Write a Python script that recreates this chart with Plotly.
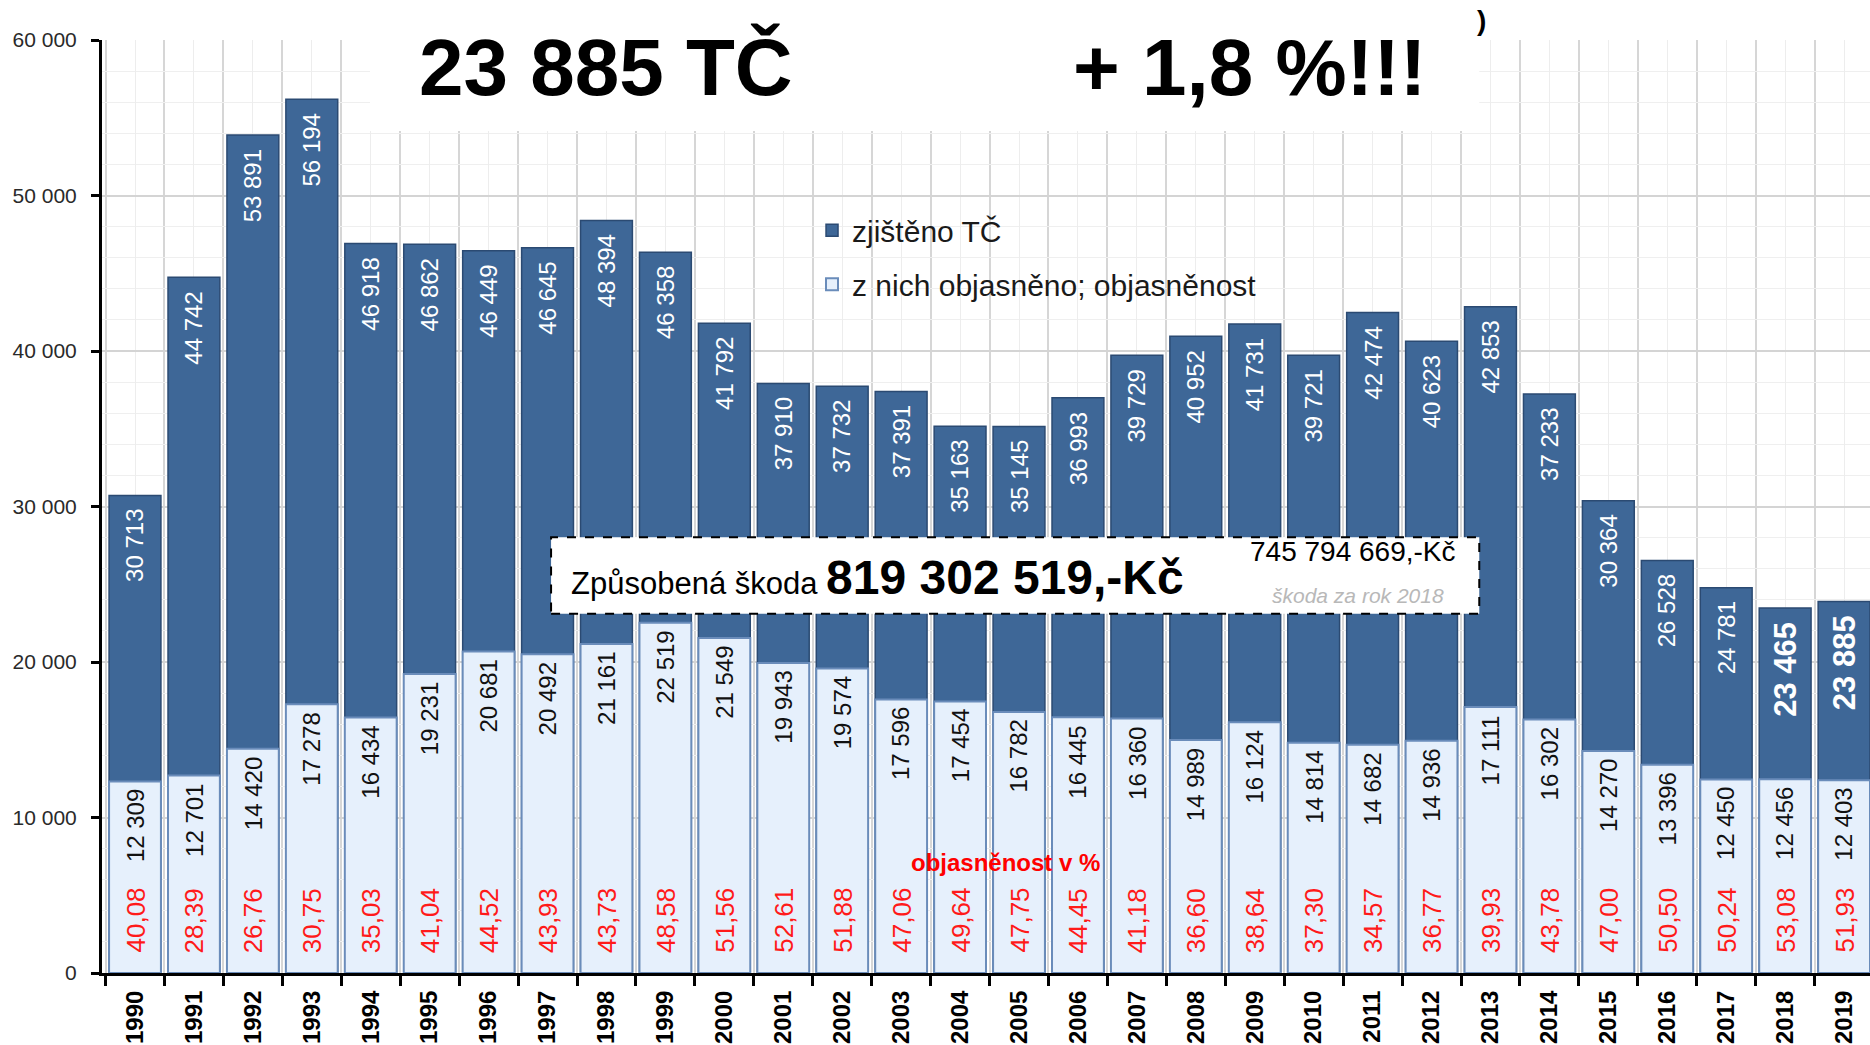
import plotly.graph_objects as go

# data
years = list(range(1990, 2020))
zjisteno = [30713, 44742, 53891, 56194, 46918, 46862, 46449, 46645, 48394, 46358,
            41792, 37910, 37732, 37391, 35163, 35145, 36993, 39729, 40952, 41731,
            39721, 42474, 40623, 42853, 37233, 30364, 26528, 24781, 23465, 23885]
objasneno = [12309, 12701, 14420, 17278, 16434, 19231, 20681, 20492, 21161, 22519,
             21549, 19943, 19574, 17596, 17454, 16782, 16445, 16360, 14989, 16124,
             14814, 14682, 14936, 17111, 16302, 14270, 13396, 12450, 12456, 12403]
objasnenost = ["40,08", "28,39", "26,76", "30,75", "35,03", "41,04", "44,52", "43,93",
               "43,73", "48,58", "51,56", "52,61", "51,88", "47,06", "49,64", "47,75",
               "44,45", "41,18", "36,60", "38,64", "37,30", "34,57", "36,77", "39,93",
               "43,78", "47,00", "50,50", "50,24", "53,08", "51,93"]
highlight_years = [2018, 2019]

SANS = "Liberation Sans, Arial, sans-serif"

DARK = "#3e6797"
LIGHT = "#e6f0fc"


def fmt(v):
    return f"{v:,}".replace(",", " ")


fig = go.Figure()
fig.add_trace(go.Bar(
    x=years, y=zjisteno, name="zjištěno TČ", width=0.88,
    marker=dict(color=DARK, line=dict(color="#2b4a72", width=1.5)),
    legendgroup="a", hoverinfo="x+y",
))
fig.add_trace(go.Bar(
    x=years, y=objasneno, name="z nich objasněno; objasněnost", width=0.88,
    marker=dict(color=LIGHT, line=dict(color="#6a8cba", width=2)),
    legendgroup="b", hoverinfo="x+y",
))

annotations = []
for yr, tot, obj, pct in zip(years, zjisteno, objasneno, objasnenost):
    big = yr in highlight_years
    annotations.append(dict(
        x=yr, y=tot, text=f"<b>{fmt(tot)}</b>" if big else fmt(tot),
        textangle=-90, yanchor="top", yshift=-12, showarrow=False,
        font=dict(family=SANS, size=31 if big else 24, color="white")))
    annotations.append(dict(
        x=yr, y=obj, text=fmt(obj), textangle=-90, yanchor="top", yshift=-6,
        showarrow=False, font=dict(family=SANS, size=24, color="#111111")))
    annotations.append(dict(
        x=yr, y=0, text=pct, textangle=-90, yanchor="bottom", yshift=18,
        showarrow=False, font=dict(family=SANS, size=26, color="#ff1a1a")))

annotations += [
    dict(xref="paper", yref="paper", x=0.511, y=0.118, xanchor="center", yanchor="middle",
         text="<b>objasněnost v %</b>",
         showarrow=False, font=dict(family=SANS, size=24, color="#ff0000")),
    # headline over the white patch
    dict(xref="paper", yref="paper", x=0.285, y=0.971, xanchor="center", yanchor="middle",
         text="<b>23 885 TČ</b>",
         showarrow=False, font=dict(family=SANS, size=80, color="black")),
    dict(xref="paper", yref="paper", x=0.649, y=0.971, xanchor="center", yanchor="middle",
         text="<b>+ 1,8 %!!!</b>",
         showarrow=False, font=dict(family=SANS, size=80, color="black")),
    dict(xref="paper", yref="paper", x=0.7765, y=1.0204, xanchor="left", yanchor="middle",
         text="<b>)</b>",
         showarrow=False, font=dict(family=SANS, size=28, color="black")),
    # damage box
    dict(xref="paper", yref="paper", x=0.264, y=0.424, xanchor="left", yanchor="middle",
         text="Způsobená škoda <b><span style='font-size:48px'>819 302 519,-Kč</span></b>",
         showarrow=False, font=dict(family=SANS, size=31, color="black")),
    dict(xref="paper", yref="paper", x=0.7667, y=0.452, xanchor="right", yanchor="middle",
         text="745 794 669,-Kč", showarrow=False,
         font=dict(family=SANS, size=28, color="black")),
    dict(xref="paper", yref="paper", x=0.760, y=0.405, xanchor="right", yanchor="middle",
         text="<i>škoda za rok 2018</i>", showarrow=False,
         font=dict(family=SANS, size=21, color="#b8b8b8")),
]

shapes = [
    dict(type="rect", xref="paper", yref="paper", x0=0.1516, x1=0.779, y0=0.9025, y1=1.05,
         fillcolor="white", line=dict(width=0), layer="above"),
    dict(type="rect", xref="paper", yref="paper", x0=0.254, x1=0.779, y0=0.385, y1=0.467,
         fillcolor="white", line=dict(color="black", width=2, dash="dash"), layer="above"),
]

boundaries = [y - 0.5 for y in years] + [years[-1] + 0.5]

fig.update_layout(
    width=1870, height=1045,
    margin=dict(l=102, r=0, t=40, b=72),
    barmode="overlay",
    plot_bgcolor="white", paper_bgcolor="white",
    separators=", ",
    showlegend=True,
    legend=dict(x=0.4016, y=0.824, xanchor="left", yanchor="top",
                bgcolor="rgba(0,0,0,0)", tracegroupgap=12,
                font=dict(family=SANS, size=30, color="#1a1a1a")),
    annotations=annotations,
    shapes=shapes,
    xaxis=dict(
        range=[1989.44, 2019.44], tickmode="array", tickvals=years,
        ticktext=[f"<b>{y}</b>" for y in years], tickangle=-90,
        tickfont=dict(family=SANS, size=24, color="black"),
        ticks="", ticklabelstandoff=5, automargin=False,
        showgrid=True, gridcolor="#ededed", gridwidth=1,
        showline=True, linecolor="black", linewidth=3,
        zeroline=False,
        minor=dict(tickmode="array", tickvals=boundaries, ticks="outside", ticklen=10,
                   tickwidth=3, tickcolor="black", showgrid=True,
                   gridcolor="#d6d6d6", gridwidth=1.5),
    ),
    yaxis=dict(
        range=[0, 60000], dtick=10000, tickformat=",d", automargin=False,
        tickfont=dict(family=SANS, size=21, color="#2a2a2a"),
        ticks="outside", ticklen=8, tickwidth=3, tickcolor="black",
        ticklabelstandoff=10,
        showgrid=True, gridcolor="#d4d4d4", gridwidth=1.5,
        showline=True, linecolor="black", linewidth=3, zeroline=False,
        minor=dict(dtick=2000, showgrid=True, gridcolor="#efefef", gridwidth=1),
    ),
)

fig.write_html("out.html", config={"displayModeBar": False},
               post_script="document.body.style.margin='0';document.body.style.overflow='hidden';")
